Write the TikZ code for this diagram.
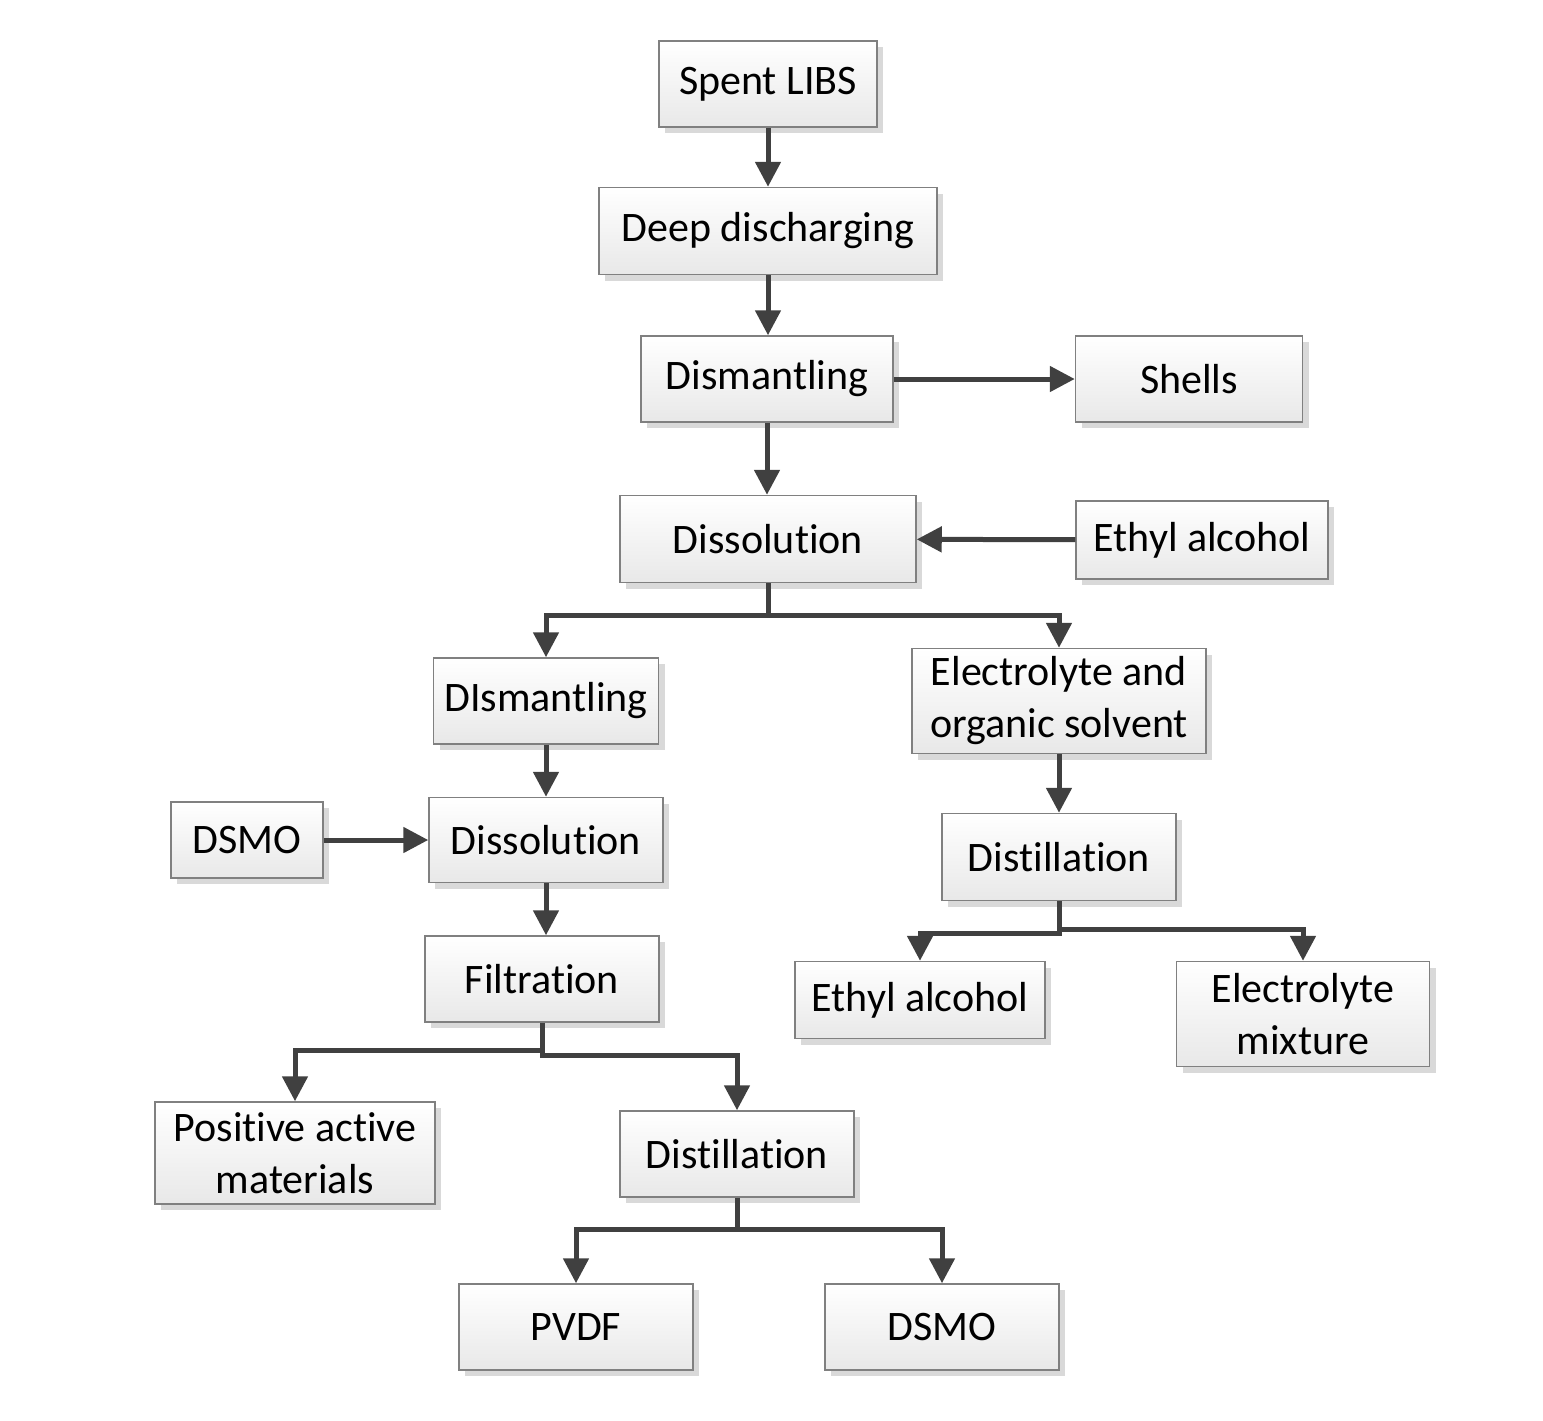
\documentclass[tikz,border=0pt]{standalone}
\usepackage{fontspec}
\setmainfont[Ligatures={NoCommon,NoContextual,NoRare},Contextuals=NoAlternate]{Carlito}
\usetikzlibrary{arrows.meta,shadows}
\definecolor{arr}{HTML}{404040}
\definecolor{bord}{HTML}{808080}
\newcommand{\tI}{t\kern0pt i}
\tikzset{
  boxnode/.style={draw=bord, line width=1.5pt, top color=white, bottom color=black!9,
    drop shadow={shadow xshift=6pt, shadow yshift=-6pt, fill=black!15, opacity=1},
    inner sep=0pt, align=center, font=\fontsize{42}{52}\selectfont},
  conn/.style={draw=arr, line width=5pt, -{Triangle[length=25pt,width=25pt]}}
}
\begin{document}
\begin{tikzpicture}[x=1pt,y=-1pt]
\useasboundingbox (0,0) rectangle (1543,1421);
\node[boxnode, minimum width=218pt, minimum height=86pt] (spent) at (768,84) {Spent LIBS};
\node[boxnode, minimum width=338pt, minimum height=87pt] (deep) at (768,231) {Deep discharging};
\node[boxnode, minimum width=252pt, minimum height=86pt] (dism) at (767,379) {Dismantling};
\node[boxnode, minimum width=227pt, minimum height=86pt] (shells) at (1189,379) {Shells};
\node[boxnode, minimum width=296pt, minimum height=87pt] (diss) at (768,539) {Dissolu\tI on};
\node[boxnode, minimum width=252pt, minimum height=78pt] (eth1) at (1202,540) {Ethyl alcohol};
\node[boxnode, minimum width=225pt, minimum height=86pt] (dism2) at (546,701) {DIsmantling};
\node[boxnode, minimum width=294pt, minimum height=105pt] (elec) at (1059,701) {Electrolyte and\\organic solvent};
\node[boxnode, minimum width=152pt, minimum height=76pt] (dsmo1) at (247,840) {DSMO};
\node[boxnode, minimum width=234pt, minimum height=85pt] (diss2) at (546,840) {Dissolu\tI on};
\node[boxnode, minimum width=234pt, minimum height=87pt] (dist1) at (1059,857) {Dis\tI llation};
\node[boxnode, minimum width=234pt, minimum height=86pt] (filt) at (542,979) {Filtra\tI on};
\node[boxnode, minimum width=250pt, minimum height=77pt] (eth2) at (920,1000) {Ethyl alcohol};
\node[boxnode, minimum width=253pt, minimum height=105pt] (emix) at (1303,1014) {Electrolyte\\mixture};
\node[boxnode, minimum width=280pt, minimum height=102pt] (pos) at (295,1153) {Posi\tI ve ac\tI ve\\materials};
\node[boxnode, minimum width=234pt, minimum height=86pt] (dist2) at (737,1154) {Dis\tI llation};
\node[boxnode, minimum width=234pt, minimum height=86pt] (pvdf) at (576,1327) {PVDF};
\node[boxnode, minimum width=234pt, minimum height=86pt] (dsmo2) at (942,1327) {DSMO};

\draw[conn] (spent) -- (deep);
\draw[conn] (deep.south) -- (dism.north -| deep.south);
\draw[conn] (dism) -- (shells);
\draw[conn] (dism) -- (diss.north -| dism.south);
\draw[conn] (eth1) -- (diss);
\draw[conn] (diss.south) -- ++(0,32) -| (dism2.north);
\draw[conn] (diss.south) -- ++(0,32) -| (elec.north);
\draw[conn] (dism2) -- (diss2);
\draw[conn] (dsmo1) -- (diss2);
\draw[conn] (diss2) -- (filt.north -| diss2.south);
\draw[conn] (elec) -- (dist1);
\draw[conn] (dist1.south) -- ++(0,32) -| (eth2.north);
\draw[conn] (dist1.south) -- ++(0,28) -| (emix.north);
\draw[conn] (filt.south) -- ++(0,28) -| (pos.north);
\draw[conn] (filt.south) -- ++(0,33) -| (dist2.north);
\draw[conn] (dist2.south) -- ++(0,32) -| (pvdf.north);
\draw[conn] (dist2.south) -- ++(0,32) -| (dsmo2.north);
\end{tikzpicture}
\end{document}
